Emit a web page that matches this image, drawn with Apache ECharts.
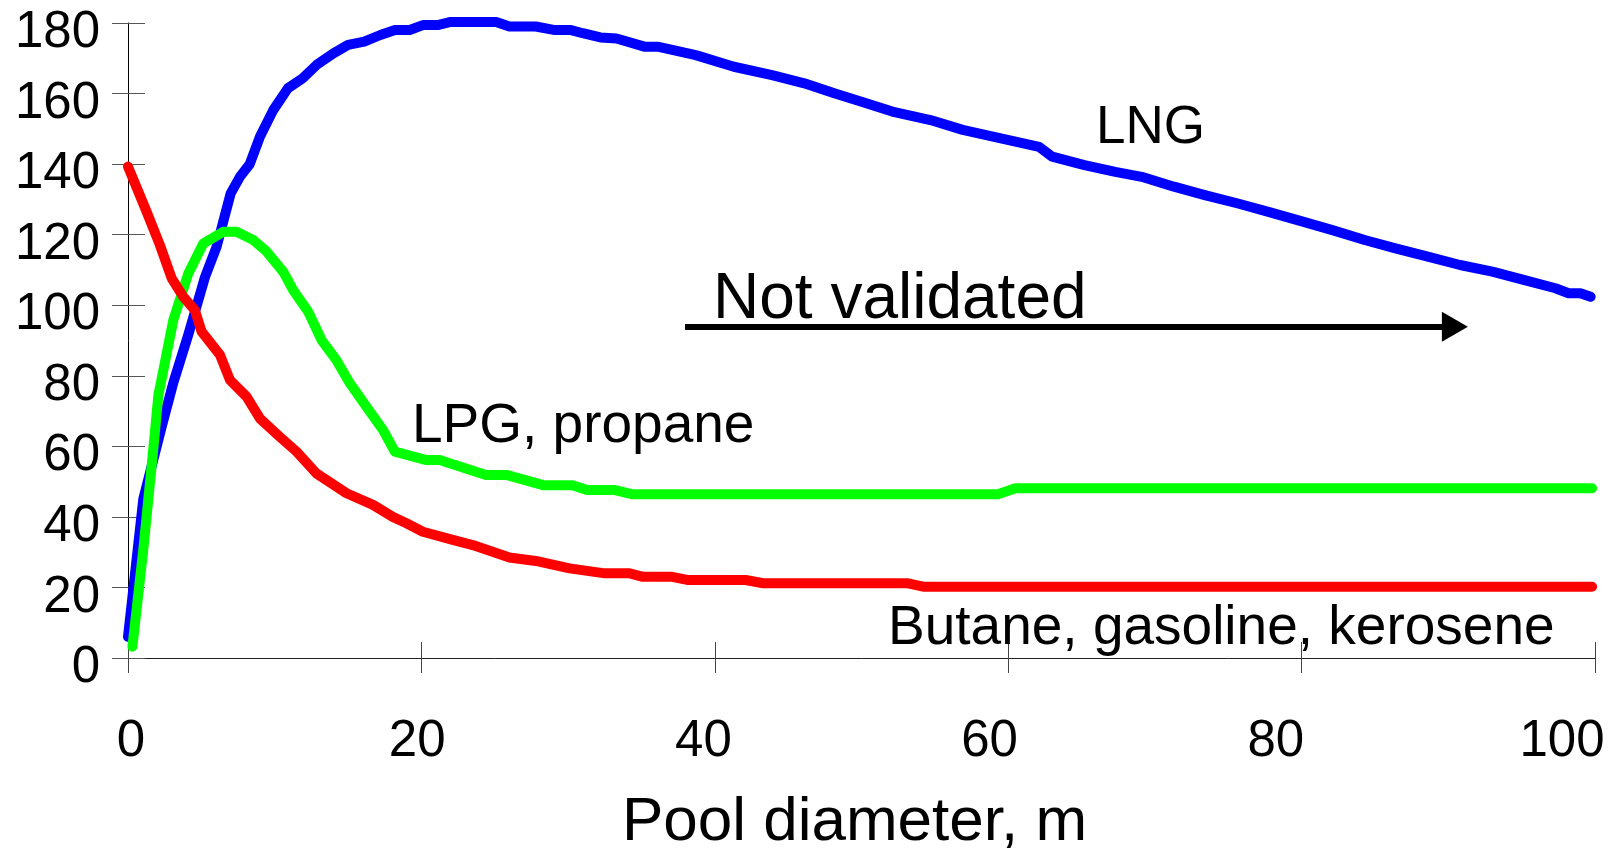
<!DOCTYPE html>
<html>
<head>
<meta charset="utf-8">
<script src="https://cdn.jsdelivr.net/npm/echarts@6/dist/echarts.min.js"></script>
<style>
  html, body { margin: 0; padding: 0; background: #ffffff; }
  #chart { width: 1621px; height: 855px; }
</style>
</head>
<body>
<div id="chart"></div>
<script>
// ---- Data ----
const xTicks = [0, 20, 40, 60, 80, 100];
const yTicks = [0, 20, 40, 60, 80, 100, 120, 140, 160, 180];

const lngX = [0, 1.04, 2.3, 3.09, 4.11, 5.25, 6.04, 7.0, 7.63, 8.3, 9.0, 9.9, 10.9, 11.9, 12.85, 14.0, 15.0, 16.1, 17.2, 18.2, 19.2, 20.1, 21.1, 22.0, 25.1, 26.0, 27.8, 29.1, 30.2, 31.0, 32.2, 33.3, 35.2, 36.1, 38.7, 41.3, 43.9, 46.1, 48.2, 50.0, 52.1, 54.7, 56.9, 59.5, 62.1, 63.0, 65.2, 67.3, 69.1, 71.3, 73.4, 75.6, 77.8, 79.9, 82.1, 84.3, 86.4, 88.6, 90.8, 93.0, 95.2, 97.3, 98.2, 99.0, 99.7];
const lngY = [6, 45, 65.6, 78, 91.6, 108, 116.6, 131.7, 136.4, 140, 147.8, 155.3, 161.5, 164.3, 168.1, 171.4, 173.8, 174.7, 176.6, 178, 178, 179.4, 179.4, 180.3, 180.3, 179, 179, 178, 178, 177.1, 175.9, 175.6, 173.3, 173.3, 170.9, 167.6, 165.2, 162.9, 160, 157.7, 154.9, 152.5, 149.7, 147.3, 144.9, 142.1, 139.7, 137.8, 136.4, 133.6, 131.2, 128.9, 126.4, 123.9, 121.3, 118.5, 116.1, 113.8, 111.4, 109.5, 107.1, 104.8, 103.4, 103.4, 102.4];

const lpgX = [0.3, 1.04, 1.72, 2.07, 3.09, 4.11, 5.13, 6.49, 7.4, 8.54, 9.45, 10.58, 11.26, 12.28, 13.2, 14.2, 15.12, 16.26, 17.39, 18.19, 20.35, 21.25, 24.4, 25.8, 28.3, 30.3, 31.3, 33.2, 34.4, 59.3, 60.5, 99.8];
const lpgY = [3.2, 30.6, 59, 74.5, 95.8, 109, 117.5, 120.8, 120.8, 118.5, 115.2, 109.5, 104.3, 98.2, 90.1, 84.5, 77.9, 71.2, 64.6, 58.5, 56.1, 56.1, 51.9, 51.9, 49, 49, 47.6, 47.6, 46.4, 46.4, 48.1, 48.1];

const butX = [0, 1.27, 2.18, 2.98, 3.77, 4.56, 5.02, 6.27, 6.95, 8.08, 8.99, 10.35, 11.49, 12.85, 14.9, 16.7, 18.05, 18.98, 20.1, 22.2, 23.5, 26.0, 27.8, 30.1, 32.5, 34.2, 35.1, 37.1, 38.2, 42.1, 43.3, 53.1, 54.2, 99.8];
const butY = [139.3, 126.5, 117, 107.6, 102.4, 98.6, 92.5, 85.9, 78.8, 74.1, 67.9, 62.7, 58.5, 52.3, 46.7, 43.4, 40, 38.2, 35.8, 33.4, 32, 28.5, 27.5, 25.4, 24, 24, 23, 23, 22.1, 22.1, 21.2, 21.2, 20.2, 20.2];

const arrowFrom = [37.97, 93.9];
const arrowTo = [90.45, 93.9];

const labels = {
  lng: 'LNG',
  lpg: 'LPG, propane',
  but: 'Butane, gasoline, kerosene',
  nv: 'Not validated',
  xName: 'Pool diameter, m'
};

// ---- Build ----
const zip = (xs, ys) => xs.map((x, i) => [x, ys[i]]);
const FONT = 'Liberation Sans, Arial, Helvetica, sans-serif';

const chart = echarts.init(document.getElementById('chart'), null, { renderer: 'canvas' });

const xMin = xTicks[0], xMax = xTicks[xTicks.length - 1];
const yMin = yTicks[0], yMax = yTicks[yTicks.length - 1];
const xBase = { type: 'value', min: xMin, max: xMax, interval: 20, splitLine: { show: false } };
const yBase = { type: 'value', min: yMin, max: yMax, interval: 20, splitLine: { show: false } };

const lineSeries = (name, data, color, z) => ({
  name, type: 'line', data, xAxisIndex: 0, yAxisIndex: 0,
  showSymbol: false, symbol: 'none', smooth: false, clip: false, z,
  lineStyle: { color, width: 10, cap: 'round', join: 'round' },
  emphasis: { disabled: true }, silent: true
});

const option = {
  backgroundColor: '#ffffff',
  animation: false,
  textStyle: { fontFamily: FONT },
  grid: [
    { left: 128, right: 26, top: 23, bottom: 197, containLabel: false, outerBoundsMode: 'none' },
    // label band of the x axis (the original places its tick labels on a slightly narrower span)
    { left: 131, right: 59, top: 23, bottom: 197, containLabel: false, outerBoundsMode: 'none' }
  ],
  xAxis: [
    Object.assign({}, xBase, {
      gridIndex: 0,
      position: 'bottom',
      name: labels.xName,
      nameLocation: 'middle',
      nameGap: 165,
      nameTextStyle: { fontFamily: FONT, fontSize: 62, color: '#000', verticalAlign: 'middle', padding: [0, 14, 0, 0] },
      axisLine: { show: true, onZero: false, lineStyle: { color: '#222', width: 1 } },
      axisTick: { show: true, inside: false, length: 15, lineStyle: { color: '#444', width: 1 } },
      axisLabel: { show: false }
    }),
    Object.assign({}, xBase, {
      gridIndex: 0,
      position: 'bottom',
      axisLine: { show: false },
      axisTick: { show: true, inside: true, length: 16, lineStyle: { color: '#444', width: 1 } },
      axisLabel: { show: false }
    }),
    Object.assign({}, xBase, {
      gridIndex: 1,
      position: 'bottom',
      axisLine: { show: false },
      axisTick: { show: false },
      axisLabel: { show: true, margin: 58, fontFamily: FONT, fontSize: 51, color: '#000' }
    })
  ],
  yAxis: [
    Object.assign({}, yBase, {
      gridIndex: 0,
      position: 'left',
      axisLine: { show: true, onZero: false, lineStyle: { color: '#000', width: 1 } },
      axisTick: { show: true, inside: false, length: 16, lineStyle: { color: '#555', width: 1 } },
      axisLabel: { show: true, margin: 28, fontFamily: FONT, fontSize: 51, color: '#000', verticalAlign: 'top', lineHeight: 20 }
    }),
    Object.assign({}, yBase, {
      gridIndex: 0,
      position: 'left',
      axisLine: { show: false },
      axisTick: { show: true, inside: true, length: 17, lineStyle: { color: '#555', width: 1 } },
      axisLabel: { show: false }
    }),
    Object.assign({}, yBase, {
      gridIndex: 1,
      show: false
    })
  ],
  series: [
    Object.assign(lineSeries('LNG', zip(lngX, lngY), '#0000ff', 2), {
      markLine: {
        silent: true,
        symbol: ['none', 'triangle'],
        symbolSize: [30, 26],
        label: { show: false },
        lineStyle: { color: '#000', width: 6, type: 'solid' },
        emphasis: { disabled: true },
        data: [[{ coord: arrowFrom }, { coord: arrowTo }]]
      }
    }),
    lineSeries('LPG, propane', zip(lpgX, lpgY), '#00ff00', 3),
    lineSeries('Butane, gasoline, kerosene', zip(butX, butY), '#ff0000', 4)
  ],
  graphic: [
    { type: 'text', left: 1096, top: 102, z: 10, silent: true,
      style: { text: labels.lng, fontFamily: FONT, fontSize: 53, fill: '#000' } },
    { type: 'text', left: 412, top: 399, z: 10, silent: true,
      style: { text: labels.lpg, fontFamily: FONT, fontSize: 55, fill: '#000' } },
    { type: 'text', left: 888, top: 601, z: 10, silent: true,
      style: { text: labels.but, fontFamily: FONT, fontSize: 55, fill: '#000' } },
    { type: 'text', left: 713, top: 268, z: 10, silent: true,
      style: { text: labels.nv, fontFamily: FONT, fontSize: 64, fill: '#000' } }
  ]
};

chart.setOption(option);
</script>
</body>
</html>
